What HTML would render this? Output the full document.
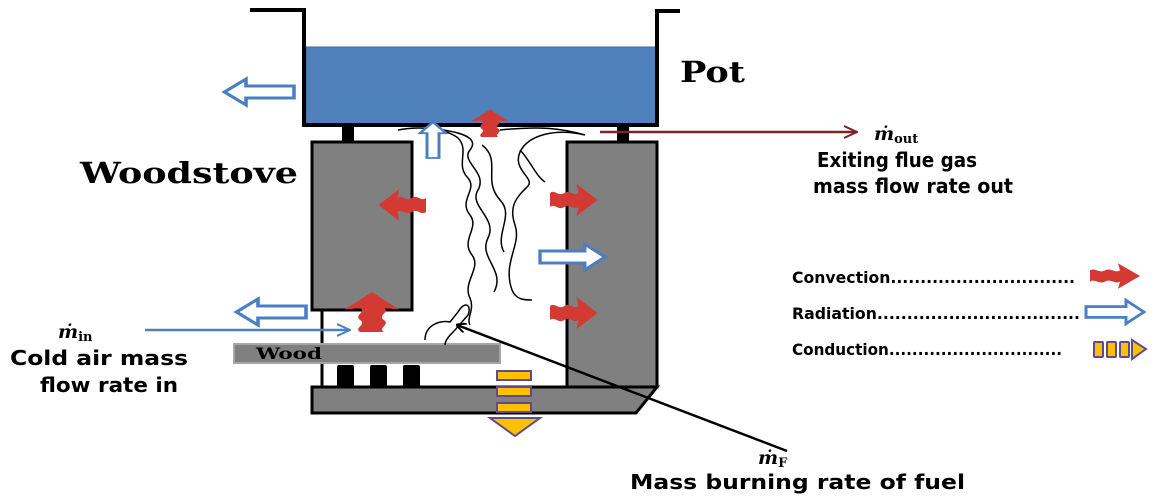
<!DOCTYPE html>
<html><head><style>html,body{margin:0;padding:0;background:#fff;width:1170px;height:500px;overflow:hidden}</style></head>
<body>
<svg width="1170" height="500" viewBox="0 0 1170 500" xmlns="http://www.w3.org/2000/svg">
<defs>
<marker id="ab" markerWidth="10" markerHeight="10" refX="9" refY="5" orient="auto" markerUnits="userSpaceOnUse"><path d="M0,0 L10,5 L0,10" fill="none" stroke="#000" stroke-width="2"/></marker>
<marker id="ar" markerWidth="14" markerHeight="14" refX="13" refY="7" orient="auto" markerUnits="userSpaceOnUse"><path d="M0,1 L13,7 L0,13" fill="none" stroke="#7b2525" stroke-width="2"/></marker>
<marker id="abl" markerWidth="14" markerHeight="14" refX="13" refY="7" orient="auto" markerUnits="userSpaceOnUse"><path d="M0,1 L13,7 L0,13" fill="none" stroke="#4a7fc1" stroke-width="2"/></marker>
<g id="conv"><path d="M0,-7 C5,-11 9,-3 15,-7 C21,-11 25,-3 30,-7 L28,-16 L50,0 L28,16 L30,7 C25,11 21,3 15,7 C9,11 5,3 0,7 Z" fill="#d23a33"/></g>
<g id="rad"><path d="M0,-6 L40,-6 L40,-13 L58,0 L40,13 L40,6 L0,6 Z" fill="#fff" stroke="#4a7fc1" stroke-width="3"/></g>
</defs>
<rect x="306" y="47" width="350" height="77" fill="#4f81bd" stroke="#3d6ca5"/>
<path d="M250,10 L304,10 L304,125 L657,125 L657,11 L680,11" fill="none" stroke="#000" stroke-width="4"/>
<rect x="342" y="125" width="12" height="17" fill="#000"/>
<rect x="617" y="125" width="12" height="17" fill="#000"/>
<rect x="312" y="142" width="100" height="168" fill="#808080" stroke="#000" stroke-width="3"/>
<rect x="567" y="142" width="90" height="245" fill="#808080" stroke="#000" stroke-width="3"/>
<line x1="322" y1="310" x2="322" y2="387" stroke="#000" stroke-width="3"/>
<rect x="337" y="365" width="17" height="22" rx="2" fill="#000"/>
<rect x="370" y="365" width="17" height="22" rx="2" fill="#000"/>
<rect x="403" y="365" width="17" height="22" rx="2" fill="#000"/>
<polygon points="312,387 657,387 636,413 312,413" fill="#808080" stroke="#000" stroke-width="3"/>
<rect x="234" y="344" width="266" height="19" fill="#808080" stroke="#a6a6a6" stroke-width="2"/>
<text x="256" y="359" font-family="DejaVu Serif,serif" font-weight="bold" font-size="16" textLength="66" lengthAdjust="spacingAndGlyphs">Wood</text>
<g fill="none" stroke="#000" stroke-width="1.5">
<path d="M398,130 C420,126 445,128 458,138 C470,150 455,165 468,178 C478,190 458,200 470,215 C480,228 460,240 472,255 C482,268 462,282 470,298 C475,310 466,318 470,325"/>
<path d="M425,128 C450,130 482,135 470,150 C460,162 488,172 478,190 C468,206 498,218 488,238 C478,258 506,270 494,292"/>
<path d="M500,130 C540,126 560,128 585,135 C555,128 528,135 520,152 C512,170 535,178 528,186 C518,196 508,205 515,225 C522,245 502,262 512,290 C516,300 525,300 532,300"/>
<path d="M482,145 C502,160 482,180 500,200 C515,215 494,235 504,252"/>
<path d="M520,150 C530,160 535,175 545,182"/>
<path d="M425,340 C425,325 440,320 450,322 L458,312 C465,300 472,305 468,315 L455,330 C450,335 445,340 445,345"/>
</g>
<use href="#rad" transform="translate(294,92) rotate(180) scale(1.2,1)"/>
<use href="#rad" transform="translate(433,158) rotate(-90) scale(0.62,1)"/>
<use href="#rad" transform="translate(540,257) scale(1.12,1)"/>
<use href="#rad" transform="translate(306,312) rotate(180) scale(1.2,1)"/>
<use href="#conv" transform="translate(490,137) rotate(-90) scale(0.55,1.2)"/>
<use href="#conv" transform="translate(426,205) rotate(180) scale(0.95,1)"/>
<use href="#conv" transform="translate(550,200) scale(0.95,1)"/>
<use href="#conv" transform="translate(550,313) scale(0.95,1)"/>
<use href="#conv" transform="translate(372,332) rotate(-90) scale(0.8,1.7)"/>
<g stroke="#5f4b8b" stroke-width="2" fill="#ffc000">
<rect x="497" y="371" width="34" height="9"/><rect x="497" y="387" width="34" height="9"/><rect x="497" y="403" width="34" height="9"/>
<polygon points="490,418 540,418 515,436"/>
</g>
<line x1="600" y1="132" x2="857" y2="132" stroke="#7b2525" stroke-width="2.5" marker-end="url(#ar)"/>
<line x1="145" y1="330" x2="350" y2="330" stroke="#4a7fc1" stroke-width="2.5" marker-end="url(#abl)"/>
<line x1="787" y1="451" x2="457" y2="325" stroke="#000" stroke-width="2.5" marker-end="url(#ab)"/>
<g font-family="DejaVu Serif,serif" font-weight="bold">
<text x="680" y="82" font-size="29" textLength="65" lengthAdjust="spacingAndGlyphs">Pot</text>
<text x="80" y="183" font-size="29" textLength="218" lengthAdjust="spacingAndGlyphs">Woodstove</text>
<text x="874" y="140" font-size="19" font-style="italic">ṁ<tspan font-size="13" font-style="normal" dy="3">out</tspan></text>
<text x="58" y="338" font-size="19" font-style="italic">ṁ<tspan font-size="13" font-style="normal" dy="3">in</tspan></text>
<text x="758" y="464" font-size="19" font-style="italic">ṁ<tspan font-size="13" font-style="normal" dy="3">F</tspan></text>
</g>
<g font-family="DejaVu Sans,sans-serif" font-weight="bold" font-size="20" lengthAdjust="spacingAndGlyphs">
<text x="817" y="167" textLength="160" lengthAdjust="spacingAndGlyphs">Exiting flue gas</text>
<text x="813" y="193" textLength="200" lengthAdjust="spacingAndGlyphs">mass flow rate out</text>
<text x="10" y="365" textLength="178" lengthAdjust="spacingAndGlyphs">Cold air mass</text>
<text x="40" y="392" textLength="138" lengthAdjust="spacingAndGlyphs">flow rate in</text>
<text x="630" y="489" textLength="335" lengthAdjust="spacingAndGlyphs">Mass burning rate of fuel</text>
</g>
<g font-family="DejaVu Sans,sans-serif" font-size="16" font-weight="bold">
<text x="792" y="283" textLength="283" lengthAdjust="spacingAndGlyphs">Convection...............................</text>
<text x="792" y="319" textLength="288" lengthAdjust="spacingAndGlyphs">Radiation..................................</text>
<text x="792" y="355" textLength="270" lengthAdjust="spacingAndGlyphs">Conduction..............................</text>
</g>
<use href="#conv" transform="translate(1090,276) scale(1,0.8)"/>
<use href="#rad" transform="translate(1086,312) scale(1,0.9)"/>
<g stroke="#5f4b8b" stroke-width="2" fill="#ffc000">
<rect x="1094" y="342" width="9" height="15" rx="1"/><rect x="1107" y="342" width="9" height="15" rx="1"/><rect x="1120" y="342" width="9" height="15" rx="1"/>
<polygon points="1132,340 1146,349 1132,359"/>
</g>
</svg>
</body></html>
